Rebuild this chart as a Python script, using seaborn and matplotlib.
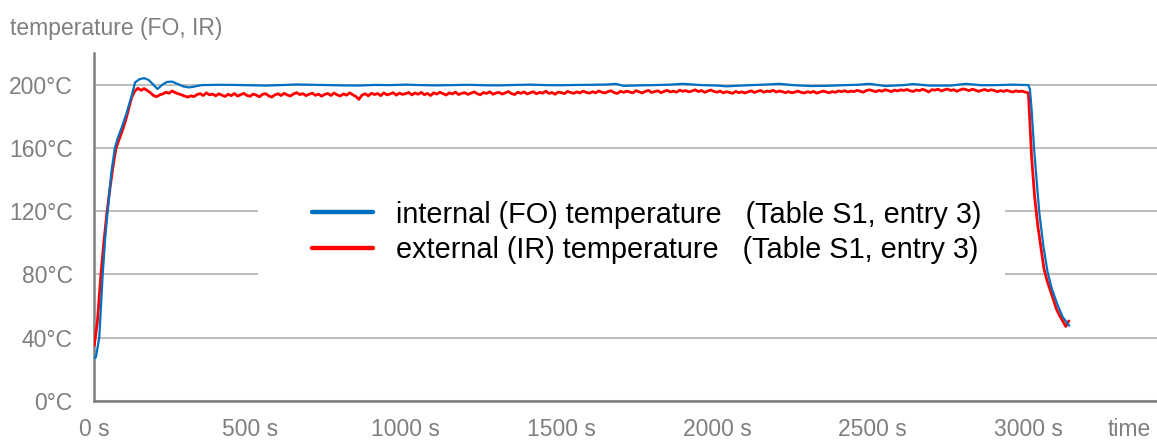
import numpy as np
import pandas as pd
import matplotlib
matplotlib.use("Agg")
import matplotlib.pyplot as plt
import seaborn as sns
from matplotlib.patches import Rectangle
from matplotlib.ticker import FuncFormatter

# ---- internal (fibre-optic) probe temperature, °C ----
fo_time = [0, 5, 10, 16, 27, 35, 43, 55, 66, 75, 90, 105, 120, 131, 145, 160, 175,
           190, 203, 218, 233, 250, 268, 285, 305, 325, 345,
           400, 450, 500, 550, 600, 650, 700, 750, 800, 850, 900, 950, 1000,
           1050, 1100, 1150, 1200, 1250, 1300, 1350, 1400, 1450, 1500, 1550,
           1600, 1650, 1675, 1700, 1750, 1800, 1850, 1890, 1950, 2000, 2030,
           2100, 2150, 2200, 2250, 2300, 2350, 2400, 2450, 2490, 2540, 2600,
           2630, 2680, 2750, 2800, 2850, 2900, 2950, 3000,
           3005, 3010, 3018, 3027, 3035, 3048, 3061, 3075, 3093, 3110, 3131]
fo_temp = [27.0, 27.5, 33.0, 40.0, 80.0, 103.0, 120.0, 145.0, 160.0, 166.0, 174.0,
           183.0, 193.0, 201.5, 203.5, 204.2, 203.0, 200.0, 197.3, 200.0, 201.8,
           202.0, 200.5, 199.0, 198.3, 199.0, 199.8,
           200.0, 199.9, 199.7, 199.5, 199.8, 200.2, 200.0, 199.8, 199.6, 199.5,
           199.9, 199.8, 200.1, 199.8, 199.6, 199.8, 200.0, 199.7, 199.6, 199.9,
           200.1, 199.8, 199.7, 199.9, 200.0, 200.2, 200.6, 199.3, 199.6, 199.8,
           200.1, 200.6, 199.8, 199.5, 199.0, 199.7, 200.1, 200.6, 199.7, 199.2,
           199.3, 199.7, 200.0, 200.6, 199.2, 199.8, 200.5, 199.5, 199.5, 200.6,
           199.7, 199.8, 200.1, 199.8,
           197.0, 185.0, 160.0, 138.0, 119.0, 98.0, 82.0, 71.0, 61.0, 53.0, 47.5]

# ---- external (infrared) temperature, °C, logged every 10 s ----
ir_time = list(range(0, 3131, 10))
ir_temp = [
    35.0, 50.0, 77.0, 99.0, 118.0, 134.0, 148.0, 160.0, 165.5, 171.0,
    177.0, 184.5, 192.0, 196.0, 197.8, 196.5, 197.6, 196.4, 195.0, 193.2,
    192.4, 193.6, 194.2, 195.3, 194.6, 196.1, 195.0, 194.3, 193.6, 192.9,
    192.2, 193.0, 192.5, 193.8, 194.4, 193.2, 194.9, 193.6, 194.1, 193.0,
    194.3, 193.4, 192.6, 194.0, 193.1, 194.5, 192.8, 193.7, 194.6, 193.3,
    192.7, 194.1, 193.5, 192.4, 193.9, 194.4, 193.0, 192.2, 193.6, 194.3,
    193.2, 194.6, 193.5, 192.9, 194.2, 195.0, 193.8, 194.4, 193.1, 194.0,
    194.7, 193.3, 194.1, 192.8, 193.9, 194.5, 193.2, 194.8, 193.6, 192.9,
    194.2, 193.4, 194.9, 193.7, 192.6, 190.8, 193.5, 194.3, 193.0, 194.6,
    193.8, 194.5, 193.1, 194.9, 193.6, 194.2, 195.0, 193.4, 194.7, 193.9,
    194.4, 195.1, 193.6, 194.8, 194.0, 195.2, 193.7, 194.5, 193.2, 194.9,
    194.1, 195.3, 194.4, 193.5, 194.9, 194.2, 195.4, 193.8, 194.6, 195.0,
    193.9, 194.7, 195.5, 194.3, 193.7, 195.1, 194.5, 195.6, 194.0, 194.8,
    195.2, 194.1, 194.9, 195.7, 194.4, 193.8, 195.3, 194.6, 195.5, 194.2,
    194.9, 195.6, 194.3, 195.2, 194.7, 195.9, 194.5, 195.1, 194.0, 195.4,
    195.0, 194.4, 195.8, 195.1, 194.6, 195.5, 194.8, 196.0, 195.2, 194.7,
    195.6, 194.9, 196.1, 195.3, 194.8, 195.7, 196.2, 195.0, 194.5, 195.9,
    195.2, 196.0, 195.4, 194.9, 196.3, 195.5, 194.8, 195.9, 196.4, 195.1,
    195.7, 196.2, 195.0, 195.8, 196.5, 195.4, 196.0, 195.3, 196.6, 195.9,
    196.3, 195.5, 196.1, 196.8, 195.7, 196.4, 195.2, 196.0, 196.7, 195.8,
    195.3, 196.0, 194.9, 195.6, 195.1, 194.6, 195.8, 195.0, 195.5, 194.8,
    195.6, 196.2, 195.1, 195.9, 196.4, 195.3, 196.0, 195.7, 196.5, 195.4,
    196.1, 195.6, 195.0, 195.7, 194.9, 195.4, 196.0, 195.2, 194.8, 195.6,
    195.1, 195.8, 194.7, 195.3, 196.0, 195.5, 194.9, 195.7, 195.2, 196.1,
    195.6, 196.3, 195.4, 196.0, 195.7, 196.5, 195.9, 195.3, 196.4, 196.8,
    196.2, 195.6, 196.5, 195.9, 196.9, 196.3, 195.7, 196.6, 196.1, 196.8,
    196.4, 197.0, 196.2, 195.8, 196.7, 196.3, 197.1, 196.5, 195.4, 196.9,
    196.6, 197.2, 196.1, 196.8, 197.3, 196.4, 196.9, 195.9, 196.7, 197.4,
    196.9, 196.3, 197.2, 196.6, 195.8, 196.5, 197.0, 196.2, 196.8, 196.4,
    195.6, 196.3, 195.8, 196.5, 195.9, 195.4, 196.2, 195.7, 196.0, 195.3,
    194.8, 155.0, 129.0, 111.0, 97.0, 83.5, 76.0, 70.0, 64.0, 58.0,
    54.0, 50.5, 47.0, 50.5,
]

x_ticks = [0, 500, 1000, 1500, 2000, 2500, 3000]
y_ticks = [0, 40, 80, 120, 160, 200]
label_fo = "internal (FO) temperature   (Table S1, entry 3)"
label_ir = "external (IR) temperature   (Table S1, entry 3)"

GRAY = "#7F7F7F"
GRID = "#BFBFBF"
BLUE = "#0070C0"
RED = "#FF0000"

sns.set_style("white")
plt.rcParams["font.family"] = ["Liberation Sans", "DejaVu Sans"]

df_fo = pd.DataFrame({"time": fo_time, "temp": fo_temp})
df_ir = pd.DataFrame({"time": ir_time, "temp": ir_temp})

fig = plt.figure(figsize=(11.57, 4.41), dpi=100)
ax = fig.add_axes([0.0815, 0.0914, 0.9185, 0.788])

sns.lineplot(data=df_ir, x="time", y="temp", ax=ax, color=RED, lw=2.0,
             estimator=None, sort=False, zorder=3)
sns.lineplot(data=df_fo, x="time", y="temp", ax=ax, color=BLUE, lw=1.6,
             estimator=None, sort=False, zorder=4)

ax.set_xlim(0, 3413)
ax.set_ylim(0, 220)
ax.set_xticks(x_ticks)
ax.set_yticks(y_ticks)
ax.xaxis.set_major_formatter(FuncFormatter(lambda v, p: f"{int(v)} s"))
ax.yaxis.set_major_formatter(FuncFormatter(lambda v, p: f"{int(v)}°C"))
ax.set_xlabel("")
ax.set_ylabel("")

ax.set_axisbelow(True)
ax.yaxis.grid(True, color=GRID, lw=1.5)
ax.xaxis.grid(False)

for side in ("top", "right"):
    ax.spines[side].set_visible(False)
for side in ("left", "bottom"):
    ax.spines[side].set_color(GRAY)
    ax.spines[side].set_linewidth(1.8)

ax.tick_params(axis="both", colors=GRAY, labelsize=16.5, length=5.5,
               width=1.8, direction="out")
ax.tick_params(axis="y", pad=10)
ax.tick_params(axis="x", pad=7)
ax.tick_params(axis="both", labelcolor=GRAY)

# white panel behind the legend interrupts the grid
ax.add_patch(Rectangle((525, 64), 2400, 72, facecolor="white",
                       edgecolor="none", zorder=1.5))

handles = [plt.Line2D([], [], color=BLUE, lw=3.2),
           plt.Line2D([], [], color=RED, lw=3.2)]
leg = ax.legend(handles, [label_fo, label_ir], loc="upper left",
                bbox_to_anchor=(0.205, 0.576), frameon=False,
                fontsize=20.8, handlelength=2.1, handletextpad=0.8,
                labelspacing=0.25, borderpad=0, borderaxespad=0)
for t in leg.get_texts():
    t.set_color("#000000")

fig.text(10 / 1157, 1 - 28 / 441, "temperature (FO, IR)", color=GRAY,
         fontsize=16.5, ha="left", va="center")
fig.text(1108 / 1157, 1 - 429 / 441, "time", color=GRAY,
         fontsize=16.5, ha="left", va="center")

fig.savefig("out.png", dpi=100)
